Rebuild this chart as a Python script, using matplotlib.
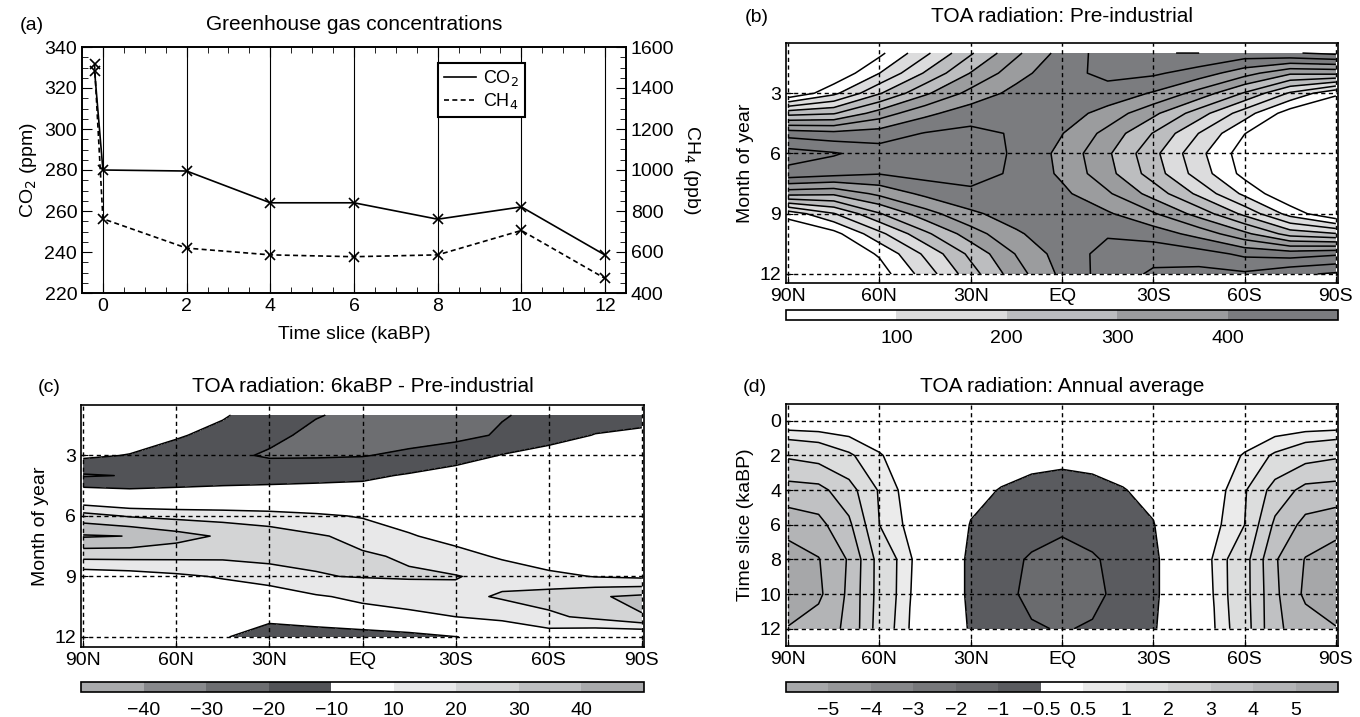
import numpy as np
import matplotlib
matplotlib.use("Agg")
import matplotlib.pyplot as plt
from matplotlib.lines import Line2D

plt.rcParams['font.family'] = ['Liberation Sans', 'DejaVu Sans']
plt.rcParams['font.size'] = 14

# (a) greenhouse gas concentrations
times = [-0.2, 0, 2, 4, 6, 8, 10, 12]
co2 = [328.5, 280, 279.5, 264, 264, 256, 262, 238.5]
ch4 = [1515, 762, 619, 586, 577, 586, 705, 471]

# latitude axis used by (b), (c)
lats = [90, 75, 60, 45, 30, 15, 0, -15, -30, -45, -60, -75, -90]
lat_ticks = [90, 60, 30, 0, -30, -60, -90]
lat_labels = ['90N', '60N', '30N', 'EQ', '30S', '60S', '90S']
months = [1, 2, 3, 4, 5, 6, 7, 8, 9, 10, 11, 12]

# (b) pre-industrial TOA insolation (W/m2), one row per latitude, Jan..Dec
toa_pi = [
    [0, 0, 0, 230.9, 429.8, 522.6, 483.8, 317.8, 68.5, 0, 0, 0],
    [0, 5.9, 87.1, 245.5, 415.2, 504.8, 467.3, 309.3, 146.5, 31.8, 0, 0],
    [37.2, 99.4, 195.1, 322.4, 423.1, 476.2, 452.6, 362.4, 245.7, 135.9, 56.3, 25.2],
    [137.5, 205.2, 290.4, 387.1, 452.7, 483.6, 469.2, 412.4, 329.0, 238.0, 159.5, 121.8],
    [243.5, 302.1, 366.1, 428.1, 462.2, 475.6, 468.3, 439.7, 390.1, 326.0, 262.6, 228.7],
    [340.2, 380.9, 416.9, 441.4, 445.3, 443.2, 442.3, 439.8, 424.7, 392.8, 353.0, 328.7],
    [418.6, 435.4, 439.3, 425.6, 401.8, 386.3, 391.0, 411.8, 430.4, 433.6, 423.0, 412.2],
    [472.8, 461.7, 432.1, 381.0, 334.1, 308.0, 317.1, 357.3, 406.7, 445.0, 467.2, 472.9],
    [499.9, 458.6, 395.2, 312.4, 247.3, 214.3, 226.4, 280.7, 355.7, 427.4, 483.5, 507.5],
    [500.1, 426.7, 331.4, 224.0, 148.9, 114.1, 127.2, 187.9, 280.5, 381.9, 472.1, 516.1],
    [481.2, 370.9, 245.0, 123.5, 51.2, 23.6, 33.6, 88.0, 186.7, 312.7, 439.2, 508.1],
    [495.3, 308.6, 143.0, 22.4, 0, 0, 0, 2.5, 80.3, 228.5, 426.9, 538.6],
    [512.8, 313.4, 57.9, 0, 0, 0, 0, 0, 0, 203.6, 442.0, 557.6],
]

# (c) 6kaBP minus pre-industrial (W/m2), one row per month, 90N..90S
toa_diff = [
    [0, -2, -5, -9, -15, -19.5, -22, -24, -23, -20.5, -18, -16, -15],
    [0, -4, -9, -13, -18, -22, -24, -24, -22.5, -19, -15, -9.5, -7],
    [-8, -10.5, -14, -18, -21, -21, -20.5, -18, -15, -9.5, -5, -2, -1],
    [-21, -19.5, -17, -15, -14, -13, -12, -9, -5, -2, 0, 0, 0],
    [-2, -5, -5, -5, -5, -5, -5, -3, -1, 0, 0, 0, 0],
    [24, 19, 17, 16, 14.5, 12, 9, 5, 2, 0, 0, 0, 0],
    [41, 39.8, 34, 28.5, 25, 21, 17.5, 11, 6, 2, 0, 0, 0],
    [23, 23, 22.5, 22, 23, 21.5, 21, 19, 14, 8.5, 3, 0, 0],
    [3, 5, 8, 11, 15, 19.5, 20.5, 21, 20.5, 17, 13, 9.5, 8],
    [0, 0, 1, 3, 4, 9, 12, 14, 17.5, 21, 24, 29, 32],
    [0, 0, -1, -6, -7, -4, 6, 7.8, 10, 14, 18, 22.5, 29.5],
    [0, 0, -4, -9, -16, -16, -19, -15, -10.3, -6, 4, 0, -2],
]

# (d) annual average change (W/m2), one row per time slice, 90N..90S every 10 deg
lats_d = [90, 80, 70, 60, 50, 40, 30, 20, 10, 0,
          -10, -20, -30, -40, -50, -60, -70, -80, -90]
slices = [0, 2, 4, 6, 8, 10, 12]
toa_ann = [
    [0, 0, 0, 0, 0, 0, 0, 0, 0, 0, 0, 0, 0, 0, 0, 0, 0, 0, 0],
    [1.85, 1.6, 1.1, 0.55, 0.15, -0.05, -0.2, -0.3, -0.36, -0.38,
     -0.36, -0.3, -0.2, -0.05, 0.15, 0.55, 1.1, 1.6, 1.85],
    [3.4, 3.3, 2.4, 0.9, 0.25, -0.05, -0.38, -0.52, -0.62, -0.68,
     -0.62, -0.52, -0.38, -0.05, 0.25, 0.9, 2.4, 3.3, 3.4],
    [4.6, 4.3, 3.2, 1.0, 0.35, -0.1, -0.52, -0.75, -0.85, -0.92,
     -0.85, -0.75, -0.52, -0.1, 0.35, 1.0, 3.2, 4.3, 4.6],
    [5.5, 5.05, 3.9, 1.6, 0.55, -0.1, -0.6, -0.88, -1.04, -1.15,
     -1.04, -0.88, -0.6, -0.1, 0.55, 1.6, 3.9, 5.05, 5.5],
    [5.6, 5.2, 3.8, 1.6, 0.52, -0.1, -0.6, -0.9, -1.08, -1.2,
     -1.08, -0.9, -0.6, -0.1, 0.52, 1.6, 3.8, 5.2, 5.6],
    [4.95, 4.5, 3.8, 1.5, 0.47, -0.1, -0.55, -0.85, -0.97, -1.02,
     -0.97, -0.85, -0.55, -0.1, 0.47, 1.5, 3.8, 4.5, 4.95],
]

W, H = 1360, 717
fig = plt.figure(figsize=(W / 100, H / 100), dpi=100)


def box(x0, y0, x1, y1):
    # pixel box (from top-left) -> figure fraction rect
    return [x0 / W, 1 - y1 / H, (x1 - x0) / W, (y1 - y0) / H]


def style_spines(ax):
    for s in ax.spines.values():
        s.set_linewidth(1.2)


def title_at(x0, x1, y, text):
    fig.text((x0 + x1) / 2 / W, 1 - y / H, text, ha='center', va='center',
             fontsize=15)


# ---------------- (a) ----------------
ax = fig.add_axes(box(82, 47, 626, 293))
ax2 = ax.twinx()
for t in times[1:]:
    ax.axvline(t, color='k', lw=0.8, zorder=1)
ax.plot(times, co2, color='k', lw=1.2, marker='x', ms=7, mew=1.2, zorder=3)
ax2.plot(times, ch4, color='k', lw=1.2, ls=(0, (3, 2)), marker='x', ms=7, mew=1.2)
ax.set_xlim(-0.5, 12.5)
ax.set_ylim(220, 340)
ax2.set_ylim(400, 1600)
ax.set_xticks([0, 2, 4, 6, 8, 10, 12])
ax.set_xticks(np.arange(-0.5, 12.6, 0.5), minor=True)
ax.set_yticks(np.arange(220, 341, 20))
ax.set_yticks(np.arange(220, 341, 5), minor=True)
ax2.set_yticks(np.arange(400, 1601, 200))
ax2.set_yticks(np.arange(400, 1601, 50), minor=True)
ax.tick_params(which='both', direction='in', top=True)
ax.tick_params(which='major', length=7)
ax.tick_params(which='minor', length=4)
ax2.tick_params(which='both', direction='in')
ax2.tick_params(which='major', length=7)
ax2.tick_params(which='minor', length=4)
ax.set_xlabel('Time slice (kaBP)', labelpad=8)
ax.set_ylabel('CO$_2$ (ppm)', labelpad=4)
ax2.set_ylabel('CH$_4$ (ppb)', rotation=270, labelpad=20)
style_spines(ax)
style_spines(ax2)
handles = [Line2D([], [], color='k', lw=1.2),
           Line2D([], [], color='k', lw=1.2, ls=(0, (3, 2)))]
leg = ax2.legend(handles, ['CO$_2$', 'CH$_4$'], loc='upper left',
                 bbox_to_anchor=(0.655, 0.935), fancybox=False, edgecolor='k',
                 framealpha=1, handlelength=1.8, borderpad=0.3, fontsize=13,
                 labelspacing=0.15, handletextpad=0.4, borderaxespad=0)
leg.get_frame().set_linewidth(1.5)
title_at(82, 626, 25, 'Greenhouse gas concentrations')
fig.text(20 / W, 1 - 25 / H, '(a)', va='center', ha='left')


# ---------------- contour panels ----------------
def contour_panel(px, cb_px, xvals, yvals, z, fill_levels, fill_colors,
                  line_levels, ylim, yticks, ylabel, cb_ticks, cb_labels):
    axc = fig.add_axes(box(*px))
    cf = axc.contourf(xvals, yvals, z, levels=fill_levels, colors=fill_colors)
    axc.contour(xvals, yvals, z, levels=line_levels, colors='k',
                linewidths=1.1, linestyles='solid')
    axc.set_xlim(90.7, -90.7)
    axc.set_ylim(*ylim)
    axc.set_xticks(lat_ticks)
    axc.set_xticklabels(lat_labels)
    axc.set_yticks(yticks)
    axc.grid(True, color='k', lw=1.0, ls=(0, (3, 2.5)))
    axc.set_axisbelow(False)
    axc.tick_params(direction='in', length=5)
    axc.set_ylabel(ylabel, labelpad=4)
    style_spines(axc)
    cax = fig.add_axes(box(*cb_px))
    cb = fig.colorbar(cf, cax=cax, orientation='horizontal', spacing='uniform',
                      ticks=cb_ticks)
    cb.set_ticklabels(cb_labels)
    cb.outline.set_linewidth(1.2)
    cax.tick_params(length=0, pad=7)
    return axc


b_colors = ['white', '#dcdcdd', '#bcbdbf', '#9b9c9e', '#7b7c7f']
contour_panel((786, 43, 1338, 283), (786, 310, 1338, 320),
              lats, months, np.array(toa_pi).T,
              [-1, 100, 200, 300, 400, 1000], b_colors,
              np.arange(50, 600, 50), (12.45, 0.5), [3, 6, 9, 12],
              'Month of year',
              [100, 200, 300, 400], ['100', '200', '300', '400'])
title_at(786, 1338, 17, 'TOA radiation: Pre-industrial')
fig.text(745 / W, 1 - 17 / H, '(b)', va='center', ha='left')

c_colors = ['#a9aaac', '#88898c', '#6d6e71', '#525357', 'white',
            '#e8e8e9', '#d3d4d5', '#bebfc1', '#a9aaac']
c_lines = [-40, -30, -20, -10, 10, 20, 30, 40]
contour_panel((81, 405, 644, 647), (81, 682, 644, 692),
              lats, months, np.array(toa_diff),
              [-1000] + c_lines + [1000], c_colors, c_lines,
              (12.5, 0.5), [3, 6, 9, 12], 'Month of year',
              c_lines, ['\u221240', '\u221230', '\u221220', '\u221210',
                        '10', '20', '30', '40'])
title_at(81, 644, 387, 'TOA radiation: 6kaBP - Pre-industrial')
fig.text(38 / W, 1 - 387 / H, '(c)', va='center', ha='left')

d_colors = ['#a6a7a9', '#969799', '#86878a', '#77787b', '#6a6b6e', '#5a5b5f',
            'white', '#ebebeb', '#dcdddd', '#cecfd0', '#c0c1c3', '#b3b4b6',
            '#a6a7a9']
d_lines = [-5, -4, -3, -2, -1, -0.5, 0.5, 1, 2, 3, 4, 5]
contour_panel((786, 404, 1338, 646), (786, 682, 1338, 692),
              lats_d, slices, np.array(toa_ann),
              [-1000] + d_lines + [1000], d_colors, d_lines,
              (13.0, -0.97), [0, 2, 4, 6, 8, 10, 12], 'Time slice (kaBP)',
              d_lines, ['\u22125', '\u22124', '\u22123', '\u22122', '\u22121',
                        '\u22120.5', '0.5', '1', '2', '3', '4', '5'])
title_at(786, 1338, 387, 'TOA radiation: Annual average')
fig.text(743 / W, 1 - 387 / H, '(d)', va='center', ha='left')

fig.savefig('out.png', dpi=100)
